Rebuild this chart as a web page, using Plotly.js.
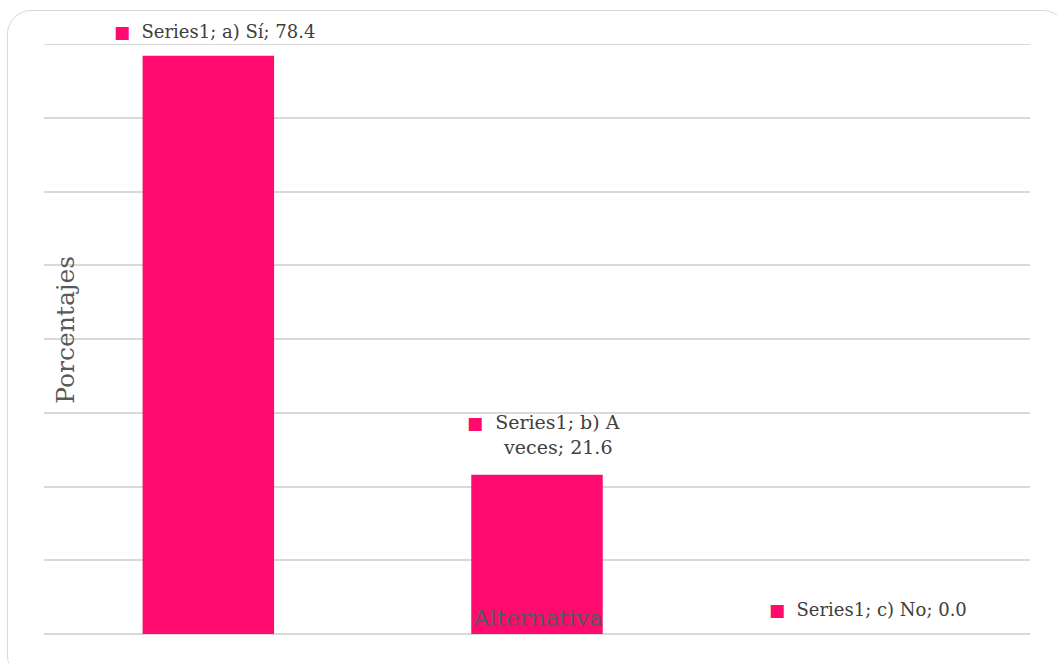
<!DOCTYPE html>
<html>
<head>
<meta charset="utf-8">
<script src="https://cdn.plot.ly/plotly-3.0.1.min.js"></script>
<style>
html,body{margin:0;padding:0;background:#fff;overflow:hidden;}
#frame{position:absolute;left:7px;top:10px;width:1060px;height:670px;border:1.5px solid #d9d9d9;border-radius:24px;box-sizing:border-box;pointer-events:none;z-index:5;}
#chart{position:absolute;left:0;top:0;width:1057px;height:663px;}
</style>
</head>
<body>
<div id="chart"></div>
<div id="frame"></div>
<script>
const categories = ["a) Sí", "b) A veces", "c) No"];
const values = [78.4, 21.6, 0.0];
const seriesName = "Series1";
const labelLines = [["Series1; a) Sí; 78.4"], ["Series1; b) A", "veces; 21.6"], ["Series1; c) No; 0.0"]];
const yMax = 80;

const barColor = "#FF0A6E";
const textColor = "#595959";
const labelColor = "#404040";
const font = "DejaVu Serif, serif";

const data = [{
  type: "bar",
  x: categories,
  y: values,
  name: seriesName,
  marker: {color: barColor},
  width: 0.4,
  hoverinfo: "none"
}];

const sq = '<span style="color:' + barColor + ';font-size:17px">■</span>';
const annotations = [
  {x: categories[0], y: values[0], yshift: 24, xshift: 6, text: sq + '  ' + labelLines[0][0], showarrow: false, yanchor: "middle"},
  {x: categories[1], y: values[1], yshift: 40, xshift: 6, text: sq + '  ' + labelLines[1][0] + '<br>' + '     ' + labelLines[1][1], showarrow: false, yanchor: "middle", align: "center", font: {size: 19, color: labelColor, family: font}},
  {x: categories[2], y: values[2], yshift: 25, xshift: 2, text: sq + '  ' + labelLines[2][0], showarrow: false, yanchor: "middle"},
  {x: categories[1], y: 0, yshift: 16, text: "Alternativa", showarrow: false, yanchor: "middle", font: {size: 23, color: textColor, family: font}},
  {xref: "paper", yref: "paper", x: 0.021, y: 0.515, text: "Porcentajes", textangle: -90, showarrow: false, xanchor: "center", yanchor: "middle", font: {size: 25, color: textColor, family: font}}
];
annotations.forEach(a => { if (!a.font) a.font = {size: 18, color: labelColor, family: font}; });

const layout = {
  width: 1057, height: 663,
  margin: {l: 44, r: 27, t: 44, b: 29},
  paper_bgcolor: "rgba(0,0,0,0)",
  plot_bgcolor: "#fff",
  showlegend: false,
  font: {family: font, color: textColor},
  xaxis: {showticklabels: false, showgrid: false, zeroline: false, showline: false, ticks: ""},
  yaxis: {range: [0, yMax], dtick: 10, showticklabels: false, showgrid: true, gridcolor: "#d9d9d9", gridwidth: 2, zeroline: true, zerolinecolor: "#d9d9d9", zerolinewidth: 2, ticks: ""},
  shapes: [{type: "line", xref: "paper", yref: "y", x0: 0, x1: 1, y0: yMax, y1: yMax, line: {color: "#d9d9d9", width: 2}, layer: "below"}],
  annotations: annotations,
  bargap: 0.6
};

Plotly.newPlot("chart", data, layout, {staticPlot: true, displayModeBar: false});
</script>
</body>
</html>
